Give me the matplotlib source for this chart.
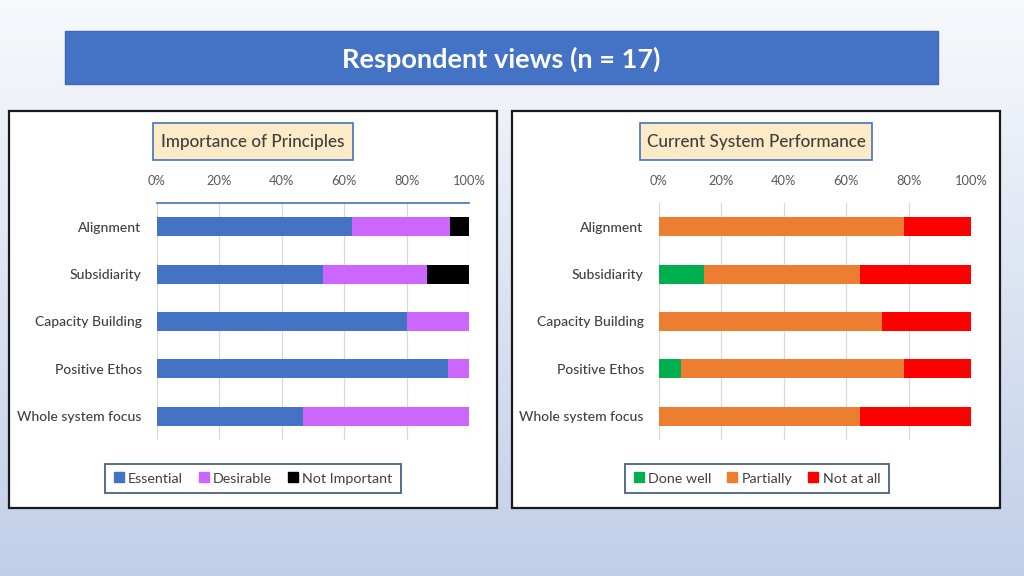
import matplotlib
matplotlib.use("Agg")
import matplotlib.pyplot as plt
import numpy as np
from matplotlib.patches import Rectangle
from matplotlib.lines import Line2D

plt.rcParams['font.family'] = ['Lato', 'DejaVu Sans']

# ---------------- data ----------------
categories = ["Alignment", "Subsidiarity", "Capacity Building", "Positive Ethos", "Whole system focus"]

importance_labels = ["Essential", "Desirable", "Not Important"]
essential = [62.5, 53.3, 80.0, 93.3, 46.7]
desirable = [31.25, 33.3, 20.0, 6.7, 53.3]
not_important = [6.25, 13.4, 0.0, 0.0, 0.0]
importance_colors = ["#4472C4", "#CC66FF", "#000000"]

performance_labels = ["Done well", "Partially", "Not at all"]
done_well = [0.0, 14.3, 0.0, 7.1, 0.0]
partially = [78.6, 50.0, 71.4, 71.5, 64.3]
not_at_all = [21.4, 35.7, 28.6, 21.4, 35.7]
performance_colors = ["#00B050", "#ED7D31", "#FF0000"]

xticks = [0, 20, 40, 60, 80, 100]
xtick_labels = ["0%", "20%", "40%", "60%", "80%", "100%"]

main_title = "Respondent views (n = 17)"
panel_titles = ["Importance of Principles", "Current System Performance"]

# ---------------- figure ----------------
W, H = 1024, 576
fig = plt.figure(figsize=(W / 100, H / 100), dpi=100)

def fx(px):
    return px / W

def fy(py):
    return 1 - py / H

# background gradient
bg = fig.add_axes([0, 0, 1, 1], zorder=-10)
grad = np.linspace(0, 1, 256).reshape(-1, 1)
top = np.array([0.972, 0.976, 0.988])
bot = np.array([0.755, 0.812, 0.915])
img = top[None, None, :] * (1 - grad[:, :, None]) + bot[None, None, :] * grad[:, :, None]
bg.imshow(img, aspect='auto', extent=[0, 1, 0, 1], origin='upper')
bg.set_axis_off()

def rect_px(x0, y0, x1, y1, **kw):
    r = Rectangle((fx(x0), fy(y1)), fx(x1) - fx(x0), fy(y0) - fy(y1),
                  transform=fig.transFigure, **kw)
    fig.patches.append(r)
    return r

# main title
rect_px(65, 31, 938, 84, facecolor="#4472C4", edgecolor="#3F68B5", lw=1.0, zorder=1)
fig.text(fx(501), fy(59), main_title, color="white", fontsize=19.5, fontweight='bold',
         ha='center', va='center', zorder=2)

# panels
panels = [(9, 111, 497, 508), (512, 111, 1000, 508)]
for (x0, y0, x1, y1) in panels:
    rect_px(x0, y0, x1, y1, facecolor="white", edgecolor="#1a1a1a", lw=1.6, zorder=0)

# panel title boxes
title_boxes = [(153, 123, 353, 160), (640, 123, 872, 160)]
for (x0, y0, x1, y1), t in zip(title_boxes, panel_titles):
    rect_px(x0, y0, x1, y1, facecolor="#FDEBC8", edgecolor="#4472C4", lw=1.2, zorder=1)
    fig.text(fx((x0 + x1) / 2), fy((y0 + y1) / 2 + 1), t, color="#404040", fontsize=12.3,
             fontweight=500, ha='center', va='center', zorder=2)

def draw_panel(ax_left_px, series, labels, colors, legend_center, top_line):
    ax = fig.add_axes([fx(ax_left_px), fy(440), fx(312), 237 / H], zorder=1)
    ax.set_facecolor('none')
    y = np.arange(len(categories))
    left = np.zeros(len(categories))
    handles = []
    for vals, lab, col in zip(series, labels, colors):
        vals = np.array(vals)
        ax.barh(y, vals, left=left, height=0.4, color=col, label=lab, zorder=3)
        left += vals
        handles.append(Line2D([], [], marker='s', linestyle='none', markersize=6.5,
                              markerfacecolor=col, markeredgecolor=col, label=lab))
    ax.set_xlim(0, 100)
    ax.set_ylim(len(categories) - 0.5, -0.5)
    ax.set_yticks(y)
    ax.set_yticklabels(categories, fontsize=10, color="#404040", fontweight=500)
    ax.set_xticks(xticks)
    ax.set_xticklabels(xtick_labels, fontsize=9.3, color="#595959")
    ax.xaxis.tick_top()
    ax.tick_params(axis='x', length=0, pad=11.5)
    ax.tick_params(axis='y', length=0, pad=11)
    ax.grid(axis='x', color="#D9D9D9", lw=0.9, zorder=0)
    for s in ['left', 'right', 'bottom']:
        ax.spines[s].set_visible(False)
    if top_line:
        ax.spines['top'].set_color("#4472C4")
        ax.spines['top'].set_linewidth(1.2)
    else:
        ax.spines['top'].set_visible(False)
    leg = ax.legend(handles=handles, loc='center', ncol=3,
                    bbox_to_anchor=(fx(legend_center[0]), fy(legend_center[1])),
                    bbox_transform=fig.transFigure, frameon=True, fancybox=False,
                    fontsize=10.3, handlelength=0.7, handletextpad=0.3, columnspacing=1.1,
                    borderpad=0.6, labelcolor="#404040")
    leg.get_frame().set_edgecolor("#1F3864")
    leg.get_frame().set_linewidth(1.3)
    return ax

draw_panel(157, [essential, desirable, not_important], importance_labels, importance_colors,
           (253, 478.5), True)
draw_panel(659, [done_well, partially, not_at_all], performance_labels, performance_colors,
           (757, 478.5), False)

fig.savefig("out.png", dpi=100)
